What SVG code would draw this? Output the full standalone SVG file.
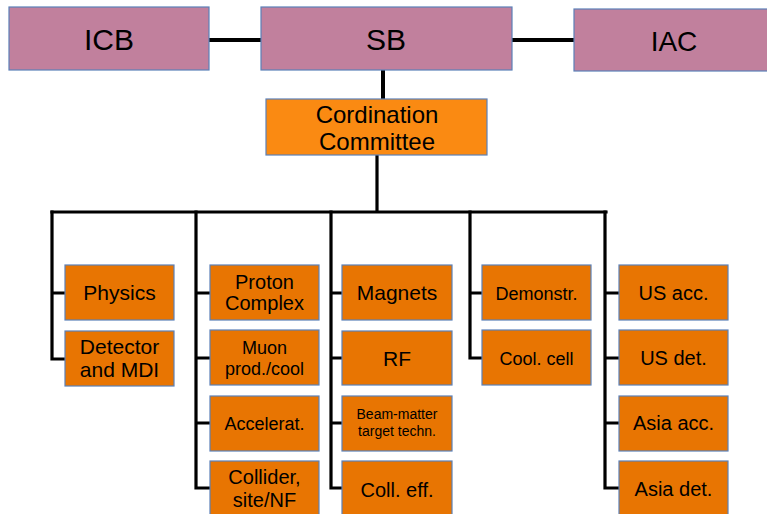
<svg xmlns="http://www.w3.org/2000/svg" width="767" height="514" viewBox="0 0 767 514">
<style>
.top{fill:#C1809D;stroke:#5B80B8;stroke-width:1.2}
.cc{fill:#FA8A12;stroke:#5B80B8;stroke-width:1.2}
.box{fill:#E87502;stroke:#5B80B8;stroke-width:1.2}
text{font-family:"Liberation Sans",Arial,sans-serif;fill:#000;text-anchor:middle}
.t30{font-size:30px}
.t24{font-size:24px}
.t21{font-size:21px}
.t20{font-size:20px}
.t18{font-size:18px}
.t14{font-size:14px}
.ln{fill:none;stroke:#000;stroke-width:3.2;stroke-linejoin:miter;stroke-linecap:square}
.lnt{fill:none;stroke:#000;stroke-width:4}
</style>
<g id="connectors">
<path class="lnt" d="M209 40H261M512 40H574M383 70V99"/>
<path class="ln" d="M377 156V211M52 212H606"/>
<path class="ln" d="M52 212V359H65M52 293H65"/>
<path class="ln" d="M196 212V488H210M196 293H210M196 358H210M196 423H210"/>
<path class="ln" d="M331 212V488H342M331 293H342M331 358H342M331 423H342"/>
<path class="ln" d="M470 212V358H482M470 293H482"/>
<path class="ln" d="M605 212V488H619M605 293H619M605 358H619M605 423H619"/>
</g>
<g id="icb"><rect class="top" x="9" y="7" width="200" height="63"/><text class="t30" x="109" y="50">ICB</text></g>
<g id="sb"><rect class="top" x="261" y="7" width="251" height="63"/><text class="t30" x="386" y="50">SB</text></g>
<g id="iac"><rect class="top" x="574" y="9" width="196" height="62"/><text class="t30" x="674" y="51" style="font-size:28px">IAC</text></g>
<g id="cc"><rect class="cc" x="266" y="99" width="221" height="56"/><text class="t24" x="377" y="123">Cordination</text><text class="t24" x="377" y="150">Committee</text></g>

<g id="physics"><rect class="box" x="65" y="265" width="109" height="55"/><text class="t21" x="119.5" y="300">Physics</text></g>
<g id="detector"><rect class="box" x="65" y="331" width="109" height="55"/><text class="t21" x="119.5" y="354">Detector</text><text class="t21" x="119.5" y="377">and MDI</text></g>

<g id="proton"><rect class="box" x="210" y="265" width="109" height="55"/><text class="t20" x="264.5" y="289">Proton</text><text class="t20" x="264.5" y="310">Complex</text></g>
<g id="muon"><rect class="box" x="210" y="330" width="109" height="55"/><text class="t18" x="264.5" y="354">Muon</text><text class="t18" x="264.5" y="375">prod./cool</text></g>
<g id="accelerat"><rect class="box" x="210" y="396" width="109" height="55"/><text class="t18" x="264.5" y="430">Accelerat.</text></g>
<g id="collider"><rect class="box" x="210" y="461" width="109" height="56"/><text class="t20" x="264.5" y="484">Collider,</text><text class="t20" x="264.5" y="507">site/NF</text></g>

<g id="magnets"><rect class="box" x="342" y="265" width="110" height="55"/><text class="t21" x="397" y="300">Magnets</text></g>
<g id="rf"><rect class="box" x="342" y="331" width="110" height="54"/><text class="t21" x="397" y="366">RF</text></g>
<g id="beam"><rect class="box" x="342" y="396" width="110" height="55"/><text class="t14" x="397" y="419">Beam-matter</text><text class="t14" x="397" y="436">target techn.</text></g>
<g id="colleff"><rect class="box" x="342" y="461" width="110" height="56"/><text class="t20" x="397" y="497">Coll. eff.</text></g>

<g id="demonstr"><rect class="box" x="482" y="265" width="109" height="55"/><text class="t18" x="536.5" y="300">Demonstr.</text></g>
<g id="coolcell"><rect class="box" x="482" y="330" width="109" height="55"/><text class="t18" x="536.5" y="365">Cool. cell</text></g>

<g id="usacc"><rect class="box" x="619" y="265" width="109" height="55"/><text class="t20" x="673.5" y="300">US acc.</text></g>
<g id="usdet"><rect class="box" x="619" y="330" width="109" height="55"/><text class="t20" x="673.5" y="365">US det.</text></g>
<g id="asiaacc"><rect class="box" x="619" y="396" width="109" height="55"/><text class="t20" x="673.5" y="430">Asia acc.</text></g>
<g id="asiadet"><rect class="box" x="619" y="461" width="109" height="56"/><text class="t20" x="673.5" y="496">Asia det.</text></g>
</svg>
